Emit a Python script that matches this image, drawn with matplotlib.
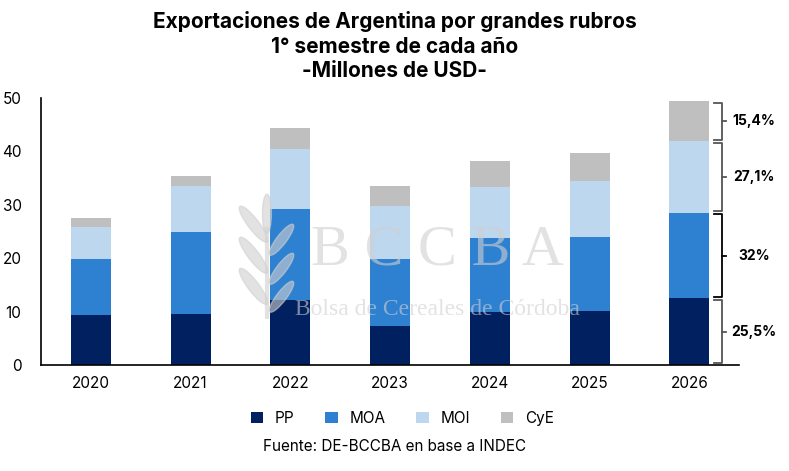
import matplotlib.pyplot as plt
import numpy as np
from matplotlib.patches import Ellipse

years = ["2020", "2021", "2022", "2023", "2024", "2025", "2026"]
pp = [9.4, 9.6, 12.2, 7.3, 9.9, 10.1, 12.5]
moa = [10.4, 15.3, 17.0, 12.5, 13.9, 13.9, 16.0]
moi = [6.0, 8.6, 11.2, 10.0, 9.5, 10.5, 13.4]
cye = [1.7, 1.9, 4.0, 3.7, 4.9, 5.2, 7.5]
series_names = ["PP", "MOA", "MOI", "CyE"]
colors = ["#002060", "#2E80D0", "#BDD7EE", "#BFBFBF"]
shares_2026 = ["25,5%", "32%", "27,1%", "15,4%"]

plt.rcParams["font.family"] = ["Inter", "DejaVu Sans"]

fig = plt.figure(figsize=(7.89, 4.71), dpi=100)
ax = fig.add_axes([0.052, 0.225, 0.885, 0.567])

x = np.arange(len(years))
data = [pp, moa, moi, cye]
bottom = np.zeros(len(years))
for vals, name, c in zip(data, series_names, colors):
    ax.bar(x, vals, 0.4, bottom=bottom, color=c, label=name, zorder=2)
    bottom += np.array(vals)

ax.set_xlim(-0.5, 6.5)
ax.set_ylim(0, 50)
ax.set_yticks([0, 10, 20, 30, 40, 50])
ax.set_xticks(x)
ax.set_xticklabels(years)
ax.tick_params(length=0, labelsize=11, pad=8)
ax.tick_params(axis="y", pad=14)
for s in ["top", "right"]:
    ax.spines[s].set_visible(False)
ax.spines["left"].set_linewidth(1.2)
ax.spines["bottom"].set_linewidth(1.2)

# brackets for 2026 shares
cum = np.concatenate([[0], np.cumsum([d[-1] for d in data])])
for i, lab in enumerate(shares_2026):
    lo, hi = cum[i] + 0.3, cum[i + 1] - 0.3
    mid = (lo + hi) / 2
    col = "black" if i == 1 else "#555555"
    x0, x1, x2 = 6.25, 6.33, 6.37
    ax.plot([x0, x1, x1, x0], [hi, hi, lo, lo], color=col, lw=1.3, clip_on=False)
    ax.plot([x1, x2], [mid, mid], color=col, lw=1.3, clip_on=False)
    ax.text(6.65, mid, lab, ha="center", va="center", fontsize=10,
            fontweight="bold", clip_on=False)

# watermark on top
fig.text(0.555, 0.468, "B C C B A", family="Liberation Serif", fontsize=42,
         color="#d0d0d0", alpha=0.6, ha="center", va="center", zorder=5)
fig.text(0.555, 0.342, "Bolsa de Cereales de Córdoba", family="Liberation Serif",
         fontsize=17, color="#d0d0d0", alpha=0.6, ha="center", va="center", zorder=5)
lax = fig.add_axes([0.300, 0.315, 0.078, 0.275])
lax.set_xlim(0, 55)
lax.set_ylim(0, 125)
lax.axis("off")
lax.patch.set_alpha(0)
for cx, cy in [(15, 95), (15, 65), (15, 35)]:
    lax.add_patch(Ellipse((cx, cy), 10, 42, angle=35, color="#d0d0d0", alpha=0.6))
for cx, cy in [(40, 80), (40, 52), (40, 25)]:
    lax.add_patch(Ellipse((cx, cy), 9, 36, angle=-35, color="#d0d0d0", alpha=0.6))
lax.add_patch(Ellipse((27, 105), 8, 38, angle=0, color="#d0d0d0", alpha=0.6))
lax.plot([27, 27], [5, 90], color="#d0d0d0", alpha=0.6, lw=3)

fig.text(0.5, 0.977, "Exportaciones de Argentina por grandes rubros\n1° semestre de cada año\n-Millones de USD-",
         ha="center", va="top", fontsize=15, fontweight="bold", linespacing=1.3)

fig.legend(loc="center", bbox_to_anchor=(0.51, 0.112), ncol=4, frameon=False,
           fontsize=11, handlelength=0.8, handleheight=0.8, columnspacing=2.0,
           handletextpad=0.8)
fig.text(0.5, 0.052, "Fuente: DE-BCCBA en base a INDEC", ha="center", va="center", fontsize=11)

fig.savefig("out.png", dpi=100)
